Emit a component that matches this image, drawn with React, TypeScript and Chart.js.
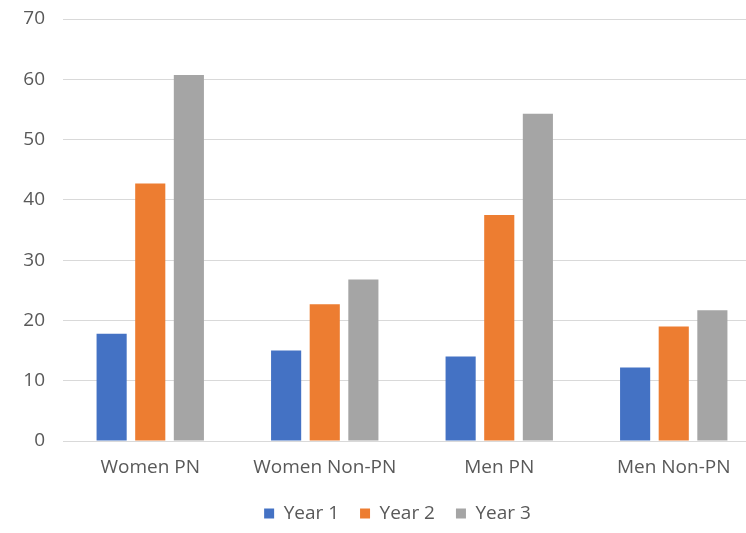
import React, { useEffect, useRef } from "react";
import { Chart, registerables } from "chart.js";

Chart.register(...registerables);

const categories = ["Women PN", "Women Non-PN", "Men PN", "Men Non-PN"];
const year1 = [17.8, 15.0, 14.0, 12.2];
const year2 = [42.7, 22.7, 37.5, 19.0];
const year3 = [60.7, 26.8, 54.3, 21.7];
const seriesNames = ["Year 1", "Year 2", "Year 3"];
const colors = ["#4472C4", "#ED7D31", "#A5A5A5"];

const legendShift = {
  id: "legendShift",
  afterLayout(chart: any) {
    const lg = chart.legend;
    if (lg) {
      lg.left += 17;
      lg.right += 17;
    }
  },
};

export default function App() {
  const ref = useRef<HTMLCanvasElement>(null);
  useEffect(() => {
    document.body.style.margin = "0";
    const ctx = ref.current!;
    const font = { family: "'Open Sans', sans-serif", size: 19 };
    const chart = new Chart(ctx, {
      type: "bar",
      data: {
        labels: categories,
        datasets: [year1, year2, year3].map((d, i) => ({
          label: seriesNames[i],
          data: d,
          backgroundColor: colors[i],
          borderWidth: 0,
          barPercentage: 0.78,
          categoryPercentage: 0.664,
        })),
      },
      plugins: [legendShift],
      options: {
        animation: false,
        responsive: false,
        devicePixelRatio: 1,
        layout: { padding: { left: 0, right: 0, top: 19, bottom: 0 } },
        plugins: {
          tooltip: { enabled: false },
          legend: {
            position: "bottom",
            labels: {
              boxWidth: 10,
              boxHeight: 10,
              padding: 21,
              color: "#595959",
              font,
            },
          },
        },
        scales: {
          x: {
            grid: { display: false, drawTicks: false },
            border: { display: false },
            ticks: { color: "#595959", font, padding: 15, maxRotation: 0 },
            afterFit: (s: any) => {
              s.height = 42;
              s.paddingLeft = 0;
              s.paddingRight = 0;
            },
          },
          y: {
            min: 0,
            max: 70,
            ticks: { stepSize: 10, color: "#595959", font, padding: 18 },
            grid: { color: "#D9D9D9", drawTicks: false, lineWidth: 1 },
            border: { display: false },
            afterFit: (s: any) => {
              s.width = 63;
              s.paddingTop = 0;
              s.paddingBottom = 0;
            },
          },
        },
      },
    });
    return () => chart.destroy();
  }, []);
  return (
    <div style={{ width: 746, height: 533, overflow: "hidden", background: "#fff" }}>
      <canvas ref={ref} width={761} height={533} style={{ width: 761, height: 533, display: "block" }} />
    </div>
  );
}
